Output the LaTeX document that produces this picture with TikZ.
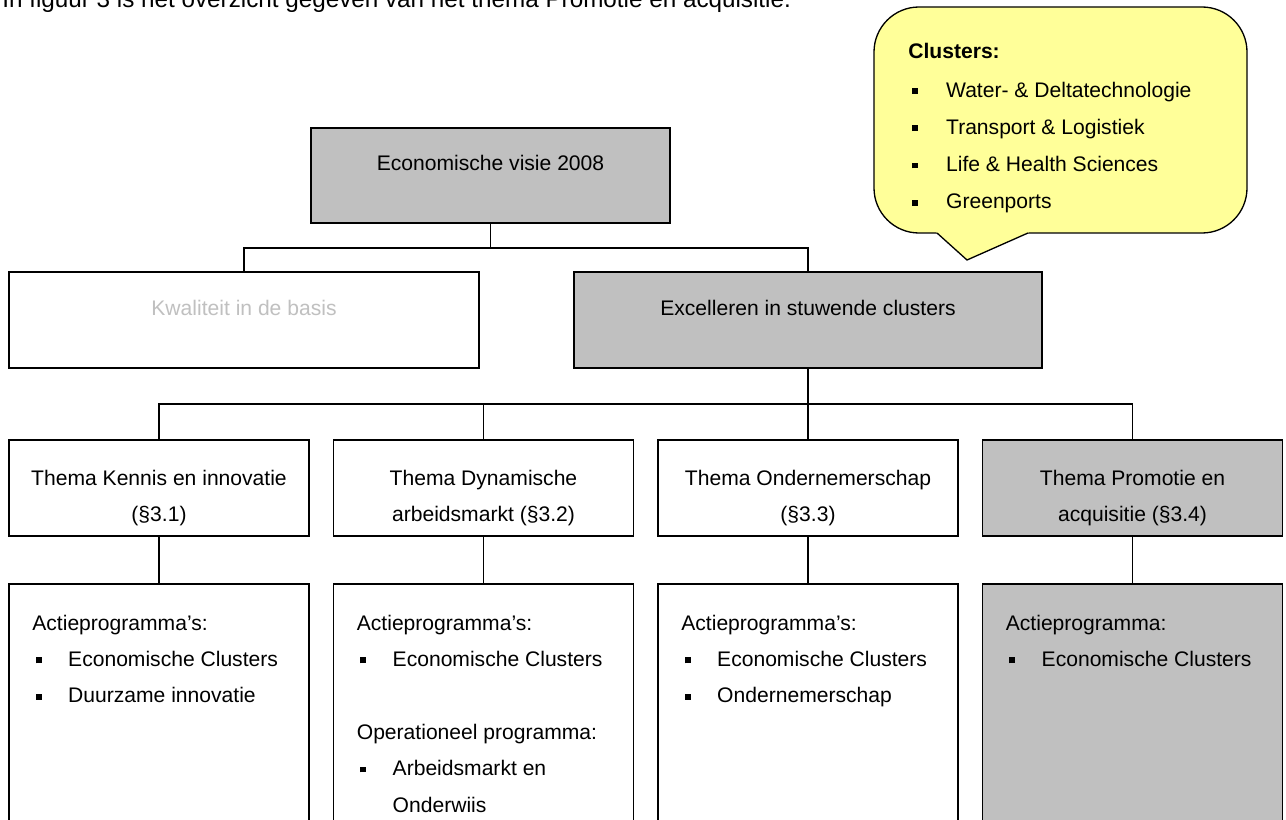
\documentclass[tikz,border=0pt]{standalone}
\usepackage{fontspec}
\setmainfont{Liberation Sans}
\usetikzlibrary{positioning}

\definecolor{grijs}{HTML}{C0C0C0}
\definecolor{geel}{HTML}{FFFF99}
\newcommand{\bol}[1][20.4pt]{\makebox[#1][l]{\hspace{2pt}\rule[1.8pt]{3.4pt}{3.4pt}}}

\begin{document}
\begin{tikzpicture}[
  kader/.style={draw, line width=0.75pt, inner sep=0pt},
  lijn/.style={line width=0.75pt},
  tekst/.style={font=\fontsize{12}{20.7}\selectfont, inner sep=0pt, align=center},
  lijst/.style={font=\fontsize{12}{20.7}\selectfont, inner sep=0pt, align=left, anchor=north west}
]
\clip (0,0) rectangle (25.72,-16.40);
\fill[white] (0,0) rectangle (25.72,-16.40);

\node[inner sep=0pt, anchor=base west, font=\fontsize{13.8}{16}\selectfont] (intro) at (0.04,-0.16) {In figuur 3 is het overzicht gegeven van het thema Promotie en acquisitie.};

% ballon met clusters
\draw[line width=0.75pt, fill=geel, rounded corners=0.9cm] (17.48,-0.14) rectangle (24.94,-4.66);
\fill[geel] (18.70,-4.60) -- (18.74,-4.66) -- (19.34,-5.20) -- (20.56,-4.66) -- (20.60,-4.60) -- cycle;
\draw[line width=0.75pt, line join=miter] (18.74,-4.66) -- (19.34,-5.20) -- (20.56,-4.66);
\node[lijst, font=\fontsize{12}{21.2}\selectfont] (clusters) at (18.16,-0.85) {\textbf{Clusters:}\\[1pt]
  \bol[21.5pt]Water- \& Deltatechnologie\\
  \bol[21.5pt]Transport \& Logistiek\\
  \bol[21.5pt]Life \& Health Sciences\\
  \bol[21.5pt]Greenports};

% kaders
\node[kader, fill=grijs, minimum width=7.18cm, minimum height=1.90cm] (visie) at (9.81,-3.51) {};
\node[kader, fill=white, minimum width=9.40cm, minimum height=1.92cm] (kwal) at (4.88,-6.40) {};
\node[kader, fill=grijs, minimum width=9.36cm, minimum height=1.92cm] (excel) at (16.16,-6.40) {};

\node[kader, fill=white, minimum width=6cm, minimum height=1.92cm] (t1) at (3.18,-9.76) {};
\node[kader, fill=white, minimum width=6cm, minimum height=1.92cm] (t2) at (9.67,-9.76) {};
\node[kader, fill=white, minimum width=6cm, minimum height=1.92cm] (t3) at (16.16,-9.76) {};
\node[kader, fill=grijs, minimum width=6cm, minimum height=1.92cm] (t4) at (22.65,-9.76) {};

\node[kader, fill=white, minimum width=6cm, minimum height=5.32cm] (a1) at (3.18,-14.34) {};
\node[kader, fill=white, minimum width=6cm, minimum height=5.32cm] (a2) at (9.67,-14.34) {};
\node[kader, fill=white, minimum width=6cm, minimum height=5.32cm] (a3) at (16.16,-14.34) {};
\node[kader, fill=grijs, minimum width=6cm, minimum height=5.32cm] (a4) at (22.65,-14.34) {};

% teksten
\node[tekst] (visielbl) at (9.81,-3.26) {Economische visie 2008};
\node[tekst, text=grijs] (kwallbl) at (4.88,-6.16) {Kwaliteit in de basis};
\node[tekst] (excellbl) at (16.16,-6.16) {Excelleren in stuwende clusters};

\node[tekst] (t1lbl) at (3.18,-9.96) {Thema Kennis en innovatie\\(§3.1)};
\node[tekst] (t2lbl) at (9.67,-9.96) {Thema Dynamische\\arbeidsmarkt (§3.2)};
\node[tekst] (t3lbl) at (16.16,-9.96) {Thema Ondernemerschap\\(§3.3)};
\node[tekst] (t4lbl) at (22.65,-9.96) {Thema Promotie en\\acquisitie (§3.4)};

\node[lijst] (a1lbl) at (0.64,-12.29) {Actieprogramma's:\\
  \bol Economische Clusters\\
  \bol Duurzame innovatie};
\node[lijst] (a2lbl) at (7.13,-12.29) {Actieprogramma's:\\
  \bol Economische Clusters\\
  \mbox{}\\
  Operationeel programma:\\
  \bol Arbeidsmarkt en\\
  \hspace*{20.4pt}Onderwiis};
\node[lijst] (a3lbl) at (13.62,-12.29) {Actieprogramma's:\\
  \bol Economische Clusters\\
  \bol Ondernemerschap};
\node[lijst] (a4lbl) at (20.11,-12.29) {Actieprogramma:\\
  \bol Economische Clusters};

% verbindingen
\coordinate (knik1) at (9.81,-4.96);
\coordinate (knik2) at (16.16,-8.08);
\draw[lijn] (visie.south) -- (knik1);
\draw[lijn] (knik1) -| (kwal.north);
\draw[lijn] (knik1) -| (excel.north);
\draw[line width=1.2pt] (excel.south) -- (knik2);
\draw[lijn] (knik2) -| (t1.north);
\draw[lijn] (knik2) -| (t2.north);
\draw[lijn] (knik2) -- (t3.north);
\draw[lijn] (knik2) -| (t4.north);
\draw[lijn] (t1.south) -- (a1.north);
\draw[lijn] (t2.south) -- (a2.north);
\draw[lijn] (t3.south) -- (a3.north);
\draw[lijn] (t4.south) -- (a4.north);
\end{tikzpicture}
\end{document}
